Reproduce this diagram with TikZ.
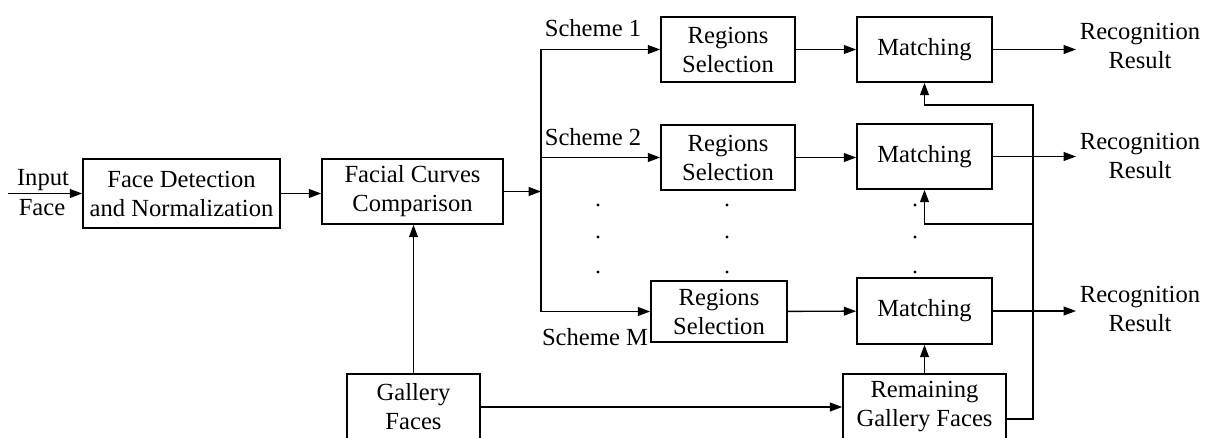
\documentclass[tikz,border=0pt]{standalone}
\usepackage{fontspec}
\setmainfont{Liberation Serif}
\usetikzlibrary{arrows.meta}

\begin{document}
\begin{tikzpicture}[
  block/.style={draw, line width=0.9pt, align=center, inner sep=0pt},
  arr/.style={-{Triangle[length=7pt,width=5pt]}, line width=0.8pt},
  font=\fontsize{14}{16.5}\selectfont
]
\useasboundingbox (0,0) rectangle (24.1,8.74);
\clip (0,0) rectangle (24.1,8.74);
% Blocks
\node[block, minimum width=3.94cm, minimum height=1.38cm] (detect) at (3.63,4.87) {Face Detection\\and Normalization};
\node[block, minimum width=3.62cm, minimum height=1.3cm] (curves) at (8.25,4.91) {Facial Curves\\Comparison};
\node[block, minimum width=2.68cm, minimum height=1.3cm] (sel1) at (14.56,7.75) {Regions\\Selection};
\node[block, minimum width=2.68cm, minimum height=1.3cm] (sel2) at (14.56,5.59) {Regions\\Selection};
\node[block, minimum width=2.72cm, minimum height=1.22cm] (selM) at (14.38,2.51) {Regions\\Selection};
\node[block, minimum width=2.7cm, minimum height=1.3cm] (match1) at (18.49,7.75) {Matching};
\node[block, minimum width=2.7cm, minimum height=1.3cm] (match2) at (18.49,5.61) {Matching};
\node[block, minimum width=2.7cm, minimum height=1.32cm] (matchM) at (18.49,2.52) {Matching};
\node[block, minimum width=2.66cm, minimum height=1.32cm] (gallery) at (8.27,0.6) {Gallery\\Faces};
\node[block, minimum width=3.26cm, minimum height=1.32cm] (remain) at (18.49,0.6) {Remaining\\Gallery Faces};
% Results and labels
\node[align=center, inner sep=2pt] (res1) at (22.8,7.82) {Recognition\\Result};
\node[align=center, inner sep=2pt] (res2) at (22.8,5.62) {Recognition\\Result};
\node[align=center, inner sep=2pt] (resM) at (22.8,2.56) {Recognition\\Result};
\node (inlbl) at (0.86,5.14) {Input};
\node (facelbl) at (0.84,4.58) {Face};
\node (s1) at (11.86,8.18) {Scheme 1};
\node (s2) at (11.86,6.0) {Scheme 2};
\node (sM) at (11.9,2.0) {Scheme M};
% Connectors
\coordinate (input) at (0.16,4.87);
\coordinate (split) at (10.82,4.9);
\coordinate (fb) at (20.66,6.64);
\coordinate (fb2) at (20.66,4.26);
\draw[arr] (input) -- (detect.west);
\draw[arr] (detect.east) -- (detect.east -| curves.west);
\draw[arr] (curves.east) -- (curves.east -| split);
\draw[line width=0.8pt] (split |- sel1.west) -- (split |- selM.west);
\draw[arr] (split |- sel1.west) -- (sel1.west);
\draw[arr] (split |- sel2.west) -- (sel2.west);
\draw[arr] (split |- selM.west) -- (selM.west);
\draw[arr] (sel1) -- (match1);
\draw[arr] (sel2.east) -- (sel2.east -| match2.west);
\draw[arr] (selM) -- (matchM);
\draw[arr] (match1.east) -- (match1.east -| res1.west);
\draw[arr] (match2.east) -- (match2.east -| res2.west);
\draw[arr] (matchM.east) -- (matchM.east -| resM.west);
\draw[arr] (gallery.north) -- (gallery.north |- curves.south);
\draw[arr] (gallery.east) -- (remain.west);
\draw[arr] (remain.north) -- (matchM.south);
\draw[arr] ([yshift=-2.4mm]remain.east) -| (fb) -| (match1.south);
\draw[arr] (fb2) -| (match2.south);
% Dots
\foreach \x in {11.96,14.54,18.3}
  \foreach \y in {4.64,4.0,3.3}
    \fill (\x,\y) circle (0.9pt);
\end{tikzpicture}
\end{document}
